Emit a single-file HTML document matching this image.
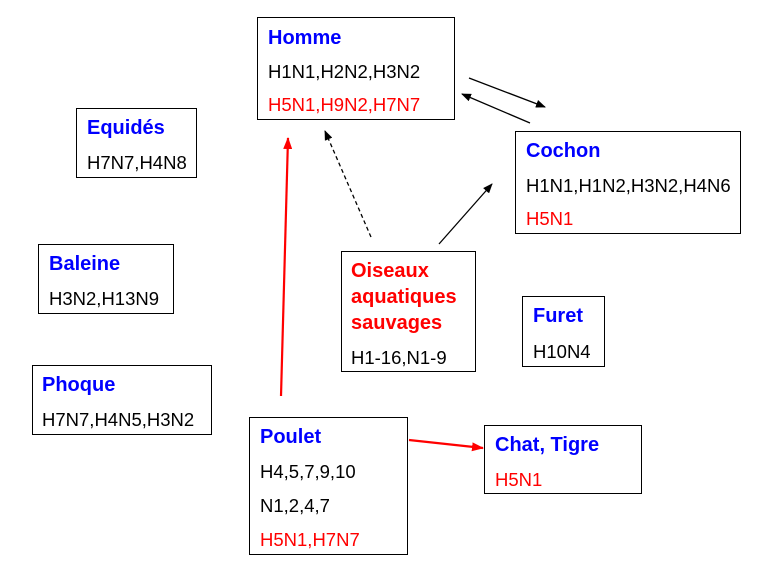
<!DOCTYPE html>
<html><head><meta charset="utf-8"><style>
html,body{margin:0;padding:0;background:#fff;}
svg{display:block;font-family:"Liberation Sans",Arial,sans-serif;font-size:18.5px;}
.t{fill:#0000ff;font-weight:bold;font-size:20px;}
.r{fill:#ff0000;}
rect{fill:#fff;stroke:#000;stroke-width:1;}
</style></head><body>
<svg width="783" height="573" viewBox="0 0 783 573" xmlns="http://www.w3.org/2000/svg">
<defs>
<marker id="ab" markerWidth="10" markerHeight="8" refX="9" refY="4" orient="auto" markerUnits="userSpaceOnUse"><path d="M0,0 L10,4 L0,8 z" fill="#000"/></marker>
<marker id="ar" markerWidth="12" markerHeight="9" refX="11" refY="4.5" orient="auto" markerUnits="userSpaceOnUse"><path d="M0,0 L12,4.5 L0,9 z" fill="#f00"/></marker>
</defs>
<rect x="257.5" y="17.5" width="197" height="102"/>
<text x="268" y="44" class="t">Homme</text>
<text x="268" y="78">H1N1,H2N2,H3N2</text>
<text x="268" y="111" class="r">H5N1,H9N2,H7N7</text>

<rect x="76.5" y="108.5" width="120" height="69"/>
<text x="87" y="134" class="t">Equidés</text>
<text x="87" y="169">H7N7,H4N8</text>

<rect x="38.5" y="244.5" width="135" height="69"/>
<text x="49" y="270" class="t">Baleine</text>
<text x="49" y="305">H3N2,H13N9</text>

<rect x="32.5" y="365.5" width="179" height="69"/>
<text x="42" y="391" class="t">Phoque</text>
<text x="42" y="426">H7N7,H4N5,H3N2</text>

<rect x="515.5" y="131.5" width="225" height="102"/>
<text x="526" y="157" class="t">Cochon</text>
<text x="526" y="192">H1N1,H1N2,H3N2,H4N6</text>
<text x="526" y="225" class="r">H5N1</text>

<rect x="341.5" y="251.5" width="134" height="120"/>
<text x="351" y="277" class="t" style="fill:#f00">Oiseaux</text>
<text x="351" y="303" class="t" style="fill:#f00">aquatiques</text>
<text x="351" y="329" class="t" style="fill:#f00">sauvages</text>
<text x="351" y="364">H1-16,N1-9</text>

<rect x="522.5" y="296.5" width="82" height="70"/>
<text x="533" y="322" class="t">Furet</text>
<text x="533" y="358">H10N4</text>

<rect x="249.5" y="417.5" width="158" height="137"/>
<text x="260" y="443" class="t">Poulet</text>
<text x="260" y="478">H4,5,7,9,10</text>
<text x="260" y="512">N1,2,4,7</text>
<text x="260" y="546" class="r">H5N1,H7N7</text>

<rect x="484.5" y="425.5" width="157" height="68"/>
<text x="495" y="451" class="t">Chat, Tigre</text>
<text x="495" y="486" class="r">H5N1</text>

<line x1="469" y1="78" x2="545" y2="107" stroke="#000" stroke-width="1.3" marker-end="url(#ab)"/>
<line x1="530" y1="123" x2="462" y2="94" stroke="#000" stroke-width="1.3" marker-end="url(#ab)"/>
<line x1="371" y1="237" x2="325" y2="131" stroke="#000" stroke-width="1.3" stroke-dasharray="4,3" marker-end="url(#ab)"/>
<line x1="439" y1="244" x2="492" y2="184" stroke="#000" stroke-width="1.3" marker-end="url(#ab)"/>
<line x1="281" y1="396" x2="288" y2="138" stroke="#f00" stroke-width="2.2" marker-end="url(#ar)"/>
<line x1="409" y1="440" x2="483" y2="448" stroke="#f00" stroke-width="2.2" marker-end="url(#ar)"/>
</svg>
</body></html>
